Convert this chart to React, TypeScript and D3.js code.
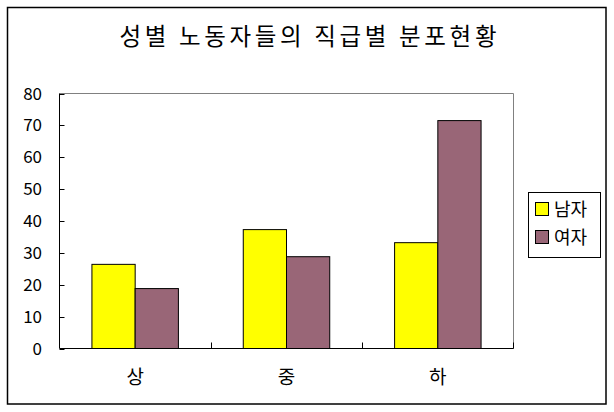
import React from "react";
import * as d3 from "d3";

const categories = ["상", "중", "하"];
const seriesNames = ["남자", "여자"];
const maleValues = [26.4, 37.3, 33.2];
const femaleValues = [18.8, 28.8, 71.5];
const yTicks = [0, 10, 20, 30, 40, 50, 60, 70, 80];
const colors = ["#FFFF00", "#996677"];
const title = "성별 노동자들의 직급별 분포현황";

const FONT = "'Noto Sans CJK KR', 'Noto Sans', sans-serif";

export default function App() {
  const W = 614, H = 412;
  const left = 59.5, right = 513.5, top = 93.5, bottom = 348.5;
  const x = d3.scaleBand<string>().domain(categories).range([left, right]).paddingInner(0).paddingOuter(0);
  const y = d3.scaleLinear().domain([0, 80]).range([bottom, top]);
  const bw = x.bandwidth();
  const barW = bw / 3.5;
  const series = [maleValues, femaleValues];

  return (
    <div style={{ position: "absolute", left: 0, top: 0, width: W, height: H, background: "#fff" }}>
      <svg width={W} height={H} style={{ display: "block" }}>
        <rect x={0} y={0} width={W} height={H} fill="#fff" />
        <rect x={7.5} y={7.5} width={598.5} height={396.5} fill="none" stroke="#000" strokeWidth={1.5} />
        <text x={308} y={45} textAnchor="middle" fontFamily={FONT} fontSize={23.5} textLength={377} lengthAdjust="spacing" fill="#000">
          {title}
        </text>
        {/* plot border */}
        <line x1={left} y1={top} x2={right} y2={top} stroke="#808080" strokeWidth={1} />
        <line x1={right} y1={top} x2={right} y2={bottom} stroke="#808080" strokeWidth={1} />
        {/* bars */}
        {categories.map((c, i) =>
          series.map((vals, s) => {
            const bx = (x(c) as number) + (bw - 2 * barW) / 2 + s * barW;
            return (
              <rect
                key={c + s}
                x={bx}
                y={y(vals[i])}
                width={barW}
                height={bottom - y(vals[i])}
                fill={colors[s]}
                stroke="#000"
                strokeWidth={1}
              />
            );
          })
        )}
        {/* axes */}
        <line x1={left} y1={top} x2={left} y2={bottom} stroke="#000" strokeWidth={1} />
        <line x1={left} y1={bottom} x2={right} y2={bottom} stroke="#000" strokeWidth={1} />
        {yTicks.map((t) => (
          <g key={t}>
            <line x1={left} x2={left + 5} y1={Math.round(y(t)) + 0.5} y2={Math.round(y(t)) + 0.5} stroke="#000" />
            <text x={42} y={y(t)} dy="0.36em" textAnchor="end" fontFamily={FONT} fontSize={17} fill="#000">
              {t}
            </text>
          </g>
        ))}
        {categories.map((c, i) => (
          <g key={c}>
            {i > 0 && (
              <line x1={Math.round(x(c) as number) + 0.5} x2={Math.round(x(c) as number) + 0.5} y1={bottom} y2={bottom - 6} stroke="#000" />
            )}
            <text x={(x(c) as number) + bw / 2} y={384} textAnchor="middle" fontFamily={FONT} fontSize={19} fill="#000">
              {c}
            </text>
          </g>
        ))}
        {/* right end tick */}
        <line x1={right} x2={right} y1={bottom} y2={bottom - 6} stroke="#000" />
        {/* legend */}
        <rect x={528.5} y={192.5} width={72} height={65} fill="#fff" stroke="#000" strokeWidth={1} />
        {seriesNames.map((n, s) => (
          <g key={n}>
            <rect x={535.5} y={202.5 + s * 28} width={13} height={13} fill={colors[s]} stroke="#000" />
            <text x={554} y={216 + s * 28} fontFamily={FONT} fontSize={18} fill="#000">
              {n}
            </text>
          </g>
        ))}
      </svg>
    </div>
  );
}
